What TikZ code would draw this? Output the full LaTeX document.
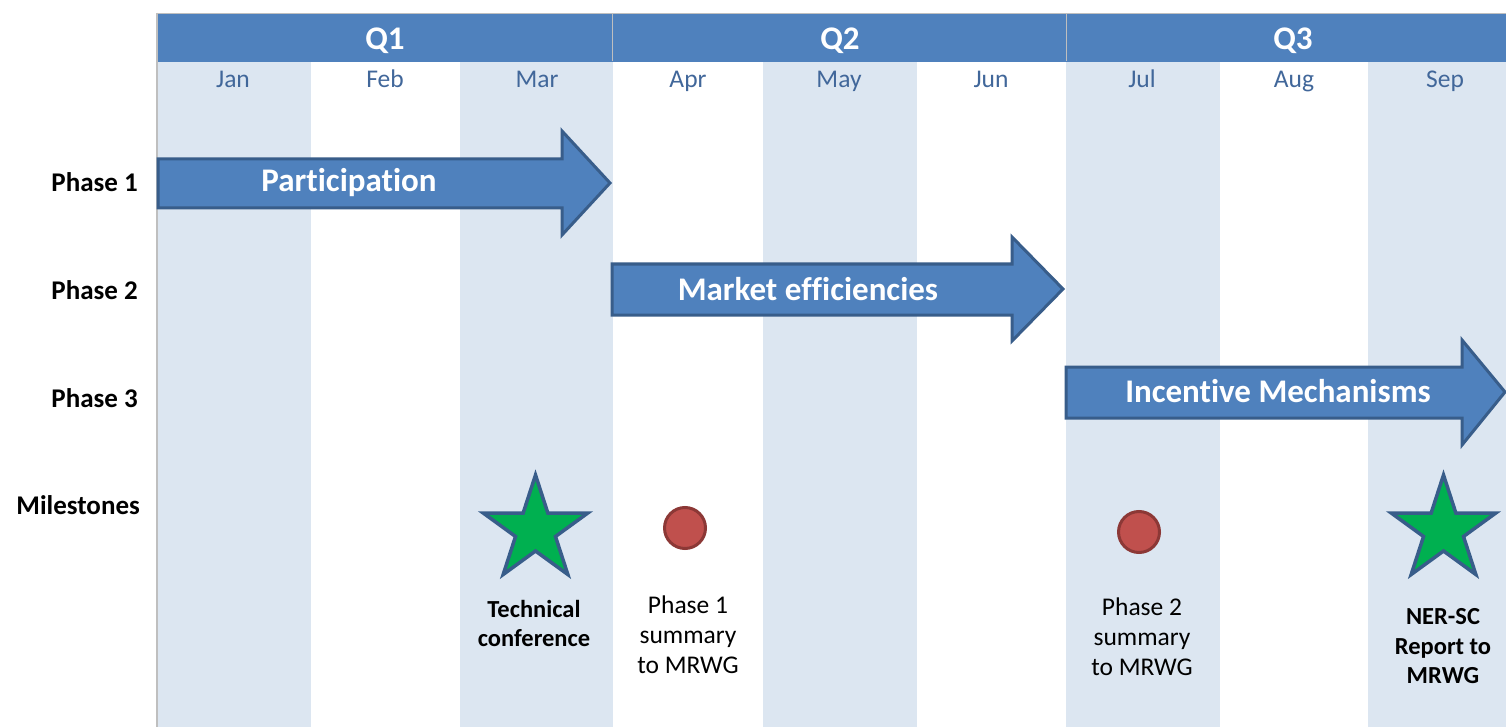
\documentclass[tikz,border=0pt]{standalone}
\usepackage{fontspec}
\setmainfont{Carlito}[Ligatures={NoCommon}]
\usetikzlibrary{shapes.geometric}
\definecolor{hdr}{HTML}{4F81BD}
\definecolor{shade}{HTML}{DCE6F1}
\definecolor{monthtxt}{HTML}{41679A}
\definecolor{gridgray}{HTML}{BFBFBF}
\definecolor{arrowline}{HTML}{385D8A}
\definecolor{stargreen}{HTML}{00B050}
\definecolor{dotred}{HTML}{C0504D}
\definecolor{dotline}{HTML}{8C3836}
\tikzset{
  colshade/.style={fill=shade,draw=none},
  quarterlbl/.style={text=white,font=\bfseries\fontsize{33}{36}\selectfont,inner sep=0,anchor=base},
  monthlbl/.style={text=monthtxt,font=\fontsize{25.5}{28}\selectfont,inner sep=0,anchor=base},
  phaselbl/.style={text=black,font=\bfseries\fontsize{27}{30}\selectfont,anchor=base east,inner sep=0},
  phasearrow/.style={fill=hdr,draw=arrowline,line width=3pt,line join=miter},
  arrowlbl/.style={text=white,font=\bfseries\fontsize{33}{36}\selectfont,inner sep=0,anchor=base},
  starmark/.style={star,star points=5,star point ratio=2.618,minimum size=110pt,inner sep=0,
    fill=stargreen,draw=arrowline,line width=3.5pt,line join=miter},
  dotmark/.style={circle,minimum size=41pt,inner sep=0,fill=dotred,draw=dotline,line width=3pt},
  msnormal/.style={align=center,text=black,font=\fontsize{25.5}{30}\selectfont,inner sep=0},
  msbold/.style={align=center,text=black,font=\bfseries\fontsize{24.5}{29.5}\selectfont,inner sep=0},
}
\begin{document}
\begin{tikzpicture}[x=1pt,y=-1pt]
\useasboundingbox (0,0) rectangle (1506,727);
\fill[white] (0,0) rectangle (1506,727);
% shaded month columns
\fill[colshade] (157,62) rectangle (311,727);
\fill[colshade] (460,62) rectangle (613,727);
\fill[colshade] (763,62) rectangle (917,727);
\fill[colshade] (1066,62) rectangle (1220,727);
\fill[colshade] (1368,62) rectangle (1506,727);
% header band
\fill[hdr] (157,14) rectangle (1506,62);
\draw[gridgray,line width=1.5pt] (157,13.5) -- (1506,13.5);
\draw[gridgray,line width=1.5pt] (157,13) -- (157,727);
\draw[gridgray,line width=1.2pt] (612.5,14) -- (612.5,61);
\draw[gridgray,line width=1.2pt] (1066.5,14) -- (1066.5,61);
% quarter labels
\node[quarterlbl] (q1) at (385,49.5) {Q1};
\node[quarterlbl] (q2) at (840,49.5) {Q2};
\node[quarterlbl] (q3) at (1293,49.5) {Q3};
% month labels
\node[monthlbl] (jan) at (233,88) {Jan};
\node[monthlbl] (feb) at (385,88) {Feb};
\node[monthlbl] (mar) at (537,88) {Mar};
\node[monthlbl] (apr) at (688,88) {Apr};
\node[monthlbl] (may) at (839,88) {May};
\node[monthlbl] (jun) at (991,88) {Jun};
\node[monthlbl] (jul) at (1142,88) {Jul};
\node[monthlbl] (aug) at (1294,88) {Aug};
\node[monthlbl] (sep) at (1445,88) {Sep};
% row labels
\node[phaselbl] (p1) at (138,192) {Phase 1};
\node[phaselbl] (p2) at (138,299.5) {Phase 2};
\node[phaselbl] (p3) at (138,407) {Phase 3};
\node[phaselbl] (ms) at (140,514) {Milestones};
% phase arrows
\draw[phasearrow] (158,159) -- (562,159) -- (562,131) -- (610,183) -- (562,235) -- (562,208) -- (158,208) -- cycle;
\node[arrowlbl] (a1) at (349,192) {Participation};
\draw[phasearrow] (612,264) -- (1012,264) -- (1012,237) -- (1063,289) -- (1012,341) -- (1012,315) -- (612,315) -- cycle;
\node[arrowlbl] (a2) at (808,300) {Market efficiencies};
\draw[phasearrow] (1066,367) -- (1462,367) -- (1462,340) -- (1505,392) -- (1462,445) -- (1462,418) -- (1066,418) -- cycle;
\node[arrowlbl] (a3) at (1278,402) {Incentive Mechanisms};
% milestones
\node[starmark] (s1) at (535.5,530) {};
\node[starmark] (s2) at (1443.5,530) {};
\node[dotmark] (d1) at (685,528) {};
\node[dotmark] (d2) at (1139,532) {};
\node[msbold] (t1) at (534,623.5) {Technical\\conference};
\node[msnormal] (t2) at (688,635) {Phase 1\\summary\\to MRWG};
\node[msnormal] (t3) at (1142,637) {Phase 2\\summary\\to MRWG};
\node[msbold] (t4) at (1443,646.5) {NER-SC\\Report to\\MRWG};
\end{tikzpicture}
\end{document}
